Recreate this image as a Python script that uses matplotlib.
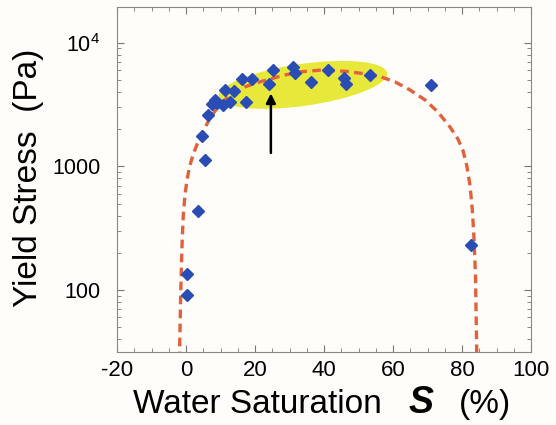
import matplotlib
matplotlib.use("Agg")
import matplotlib.pyplot as plt
import matplotlib.ticker as mticker
from matplotlib.patches import Ellipse
from matplotlib.transforms import ScaledTranslation

plt.rcParams['font.family'] = ['Liberation Sans', 'DejaVu Sans']

# measured data points (water saturation %, yield stress Pa)
sat_pts = [25.1, 31.0, 31.6, 41.1, 53.3, 45.8, 46.4, 36.1, 24.1, 16.3, 19.0,
           14.0, 11.3, 17.4, 8.4, 7.4, 8.9, 10.8, 12.8, 6.5, 4.7, 5.5, 70.9,
           3.6, 0.2, 0.2, 82.5]
stress_pts = [5990, 6340, 5690, 6040, 5510, 5180, 4660, 4850, 4680, 5120, 5120,
              4080, 4120, 3350, 3450, 3180, 3270, 3120, 3300, 2610, 1750, 1130, 4530,
              432, 135, 91, 231]

# model curve
sat_curve = [-1.94, -1.74, -1.57, -1.36, -1.10, -0.78, -0.29, 0.29, 1.01, 2.03,
             3.48, 5.22, 6.96, 9.28, 11.6, 14.2, 17.1, 20.3, 23.5, 28.1, 33.0,
             39.7, 46.7, 51.9, 56.2, 60.6, 64.9, 69.3, 73.0, 76.5, 78.8, 80.3,
             81.4, 82.3, 83.0, 83.5, 83.9, 84.1, 84.3]
stress_curve = [27, 47, 83, 145, 254, 405, 588, 778, 991, 1240,
                1580, 1980, 2470, 3030, 3520, 4010, 4400, 4740, 5010, 5450, 5820,
                6040, 5870, 5610, 5340, 4830, 4160, 3450, 2760, 2090, 1670, 1340,
                1010, 708, 445, 254, 132, 63, 27]

xticks = [-20, 0, 20, 40, 60, 80, 100]
yticks = [100, 1000, 10000]
ytick_labels = ['100', '1000', r'$\mathregular{10^4}$']

W, H = 556, 425
fig = plt.figure(figsize=(W / 100, H / 100), dpi=100)
bg = '#fefdfa'
fig.patch.set_facecolor(bg)
ax = fig.add_axes([117 / W, 1 - 352 / H, 414 / W, 345 / H])
ax.set_facecolor(bg)

ax.set_yscale('log')
ax.set_xlim(-20, 100)
ax.set_ylim(31.5, 19500)

# highlight ellipse (size in inches, centre in data coords)
ell = Ellipse((0, 0), width=1.70, height=0.42, angle=8,
              transform=fig.dpi_scale_trans + ScaledTranslation(33.9, 4570, ax.transData),
              facecolor='#e8e83a', edgecolor='none', zorder=1)
ax.add_patch(ell)

ax.plot(sat_curve, stress_curve, color='#e2603c', lw=2.4, dashes=(2.6, 1.6),
        zorder=3)
ax.plot(sat_pts, stress_pts, linestyle='none', marker='D', markersize=6,
        color='#2a4db5', zorder=4)

ax.annotate('', xy=(24.6, 3900), xytext=(24.6, 1285),
            arrowprops=dict(arrowstyle='-|>', color='black', lw=1.8,
                            mutation_scale=14, shrinkA=0, shrinkB=0), zorder=5)

ax.set_xticks(xticks)
ax.set_xticklabels([str(v) for v in xticks])
ax.xaxis.set_minor_locator(mticker.MultipleLocator(5))
ax.set_yticks(yticks)
ax.set_yticklabels(ytick_labels)
ax.yaxis.set_minor_locator(mticker.LogLocator(base=10, subs=range(2, 10)))
ax.yaxis.set_minor_formatter(mticker.NullFormatter())

ax.tick_params(which='both', direction='in', top=True, right=True, color='#777777')
ax.tick_params(which='major', length=5, width=0.8, labelsize=16, pad=6)
ax.tick_params(which='minor', length=3, width=0.6)
ax.tick_params(axis='y', which='major', pad=12, labelsize=15.5)
for sp in ax.spines.values():
    sp.set_color('#888888')
    sp.set_linewidth(0.8)

# axis titles
fig.text(29 / W, 1 - 178 / H, 'Yield Stress  (Pa)', rotation=90, fontsize=24,
         ha='center', va='center')
base_y = 1 - 413 / H
fig.text(133 / W, base_y, 'Water Saturation', fontsize=24, ha='left', va='baseline')
fig.text(409 / W, base_y, 'S', fontsize=27, fontweight='bold', fontstyle='italic',
         ha='left', va='baseline')
fig.text(459 / W, base_y, '(%)', fontsize=24, ha='left', va='baseline')

fig.savefig('out.png', dpi=100, facecolor=fig.get_facecolor())
